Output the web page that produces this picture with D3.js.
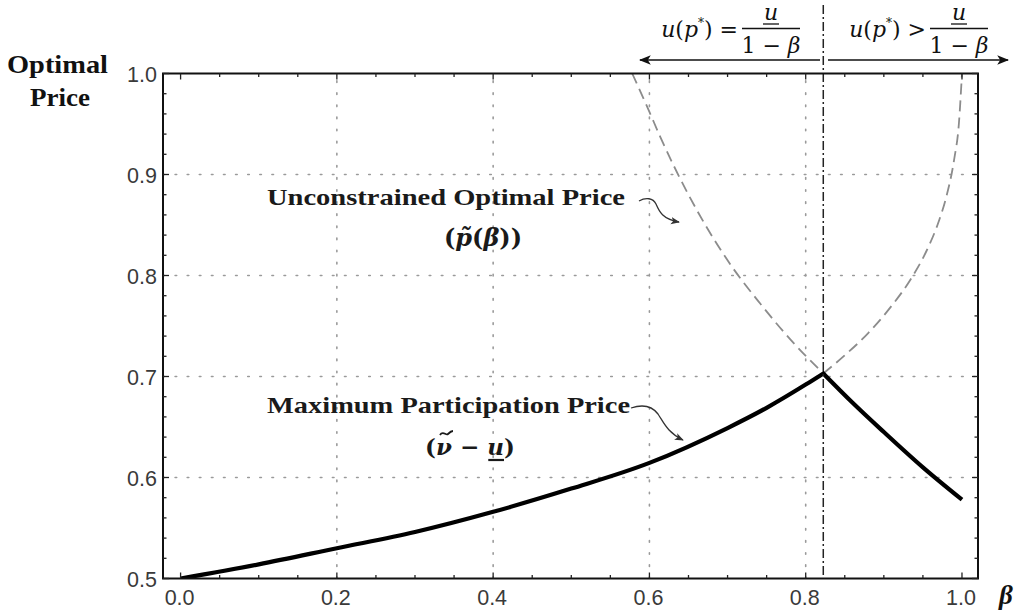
<!DOCTYPE html>
<html>
<head>
<meta charset="utf-8">
<script src="https://cdn.jsdelivr.net/npm/d3@7"></script>
<style>
  html, body { margin: 0; padding: 0; background: #fff; }
  svg { display: block; }
</style>
</head>
<body>
<svg id="chart" width="1015" height="614"></svg>
<script>
// ---------------- data ----------------
// Maximum participation price curve (rises, blows up near beta = 1)
const betaRise  = [0, 0.1, 0.2, 0.3, 0.4, 0.5, 0.6, 0.7, 0.75, 0.8, 0.8225, 0.85, 0.88, 0.91, 0.935, 0.955, 0.97, 0.98, 0.99, 0.996, 1.0];
const priceRise = [0.5, 0.514, 0.530, 0.546, 0.566, 0.589, 0.6145, 0.649, 0.669, 0.692, 0.703, 0.721, 0.743, 0.770, 0.797, 0.825, 0.853, 0.878, 0.915, 0.95, 1.0];
// Unconstrained optimal price curve (falls)
const betaFall  = [0.578, 0.6, 0.614, 0.65, 0.7, 0.742, 0.78, 0.8225, 0.86, 0.9, 0.95, 1.0];
const priceFall = [1.0, 0.962, 0.937, 0.88, 0.815, 0.772, 0.737, 0.703, 0.674, 0.645, 0.61, 0.578];
const betaSwitch = 0.8225;

const xTickValues = [0, 0.2, 0.4, 0.6, 0.8, 1.0];
const xTickLabels = ["0.0", "0.2", "0.4", "0.6", "0.8", "1.0"];
const yTickValues = [0.5, 0.6, 0.7, 0.8, 0.9, 1.0];
const yTickLabels = ["0.5", "0.6", "0.7", "0.8", "0.9", "1.0"];

// ---------------- setup ----------------
const svg = d3.select("#chart");
const L = 163, R = 978, T = 73.5, B = 578.5;
const x = d3.scaleLinear().domain([-0.0225, 1.0205]).range([L, R]);
const y = d3.scaleLinear().domain([0.5, 1.0]).range([B, T]);

const defs = svg.append("defs");
defs.append("clipPath").attr("id", "plotclip")
  .append("rect").attr("x", L).attr("y", T).attr("width", R - L).attr("height", B - T);
function marker(id, color, size) {
  defs.append("marker").attr("id", id)
    .attr("viewBox", "0 0 10 10").attr("refX", 9).attr("refY", 5)
    .attr("markerWidth", size).attr("markerHeight", size)
    .attr("markerUnits", "userSpaceOnUse")
    .attr("orient", "auto")
    .append("path").attr("d", "M0,1 L10,5 L0,9 L2.5,5 Z").attr("fill", color);
}
marker("arrowTop", "#111", 12);
marker("arrowSmall", "#333", 9);

// ---------------- grid ----------------
const grid = svg.append("g").attr("clip-path", "url(#plotclip)");
[0.2, 0.4, 0.6, 0.8].forEach(v => {
  grid.append("line")
    .attr("x1", x(v)).attr("x2", x(v)).attr("y1", B).attr("y2", T)
    .attr("stroke", "#9a9a9a").attr("stroke-width", 1.6)
    .attr("stroke-dasharray", "1.6 10.5").attr("stroke-linecap", "round");
});
[0.6, 0.7, 0.8, 0.9].forEach(v => {
  grid.append("line")
    .attr("x1", L).attr("x2", R).attr("y1", y(v)).attr("y2", y(v))
    .attr("stroke", "#9a9a9a").attr("stroke-width", 1.6)
    .attr("stroke-dasharray", "1.6 10.5").attr("stroke-linecap", "round");
});

// ---------------- curves ----------------
const line = d3.line().x(d => x(d[0])).y(d => y(d[1])).curve(d3.curveMonotoneX);
const rise = betaRise.map((b, i) => [b, priceRise[i]]);
const fall = betaFall.map((b, i) => [b, priceFall[i]]);

const plot = svg.append("g").attr("clip-path", "url(#plotclip)");
// dashed (non-binding) branches
plot.append("path").datum(fall.filter(d => d[0] <= betaSwitch))
  .attr("d", line).attr("fill", "none").attr("stroke", "#8c8c8c")
  .attr("stroke-width", 1.8).attr("stroke-dasharray", "11 6");
plot.append("path").datum(rise.filter(d => d[0] >= betaSwitch))
  .attr("d", line).attr("fill", "none").attr("stroke", "#8c8c8c")
  .attr("stroke-width", 1.8).attr("stroke-dasharray", "11 6");

// switch line (dash-dot), extends above the frame
svg.append("line")
  .attr("x1", x(betaSwitch)).attr("x2", x(betaSwitch))
  .attr("y1", 5).attr("y2", B)
  .attr("stroke", "#222").attr("stroke-width", 1.5)
  .attr("stroke-dasharray", "9 3 2 3");

// optimal price (black, thick) with a sharp corner at the switch point
const dUp = line(rise.filter(d => d[0] <= betaSwitch));
const dDown = line(fall.filter(d => d[0] >= betaSwitch)).replace(/^M/, "L");
plot.append("path")
  .attr("d", dUp + dDown).attr("fill", "none").attr("stroke", "#000")
  .attr("stroke-width", 4.2).attr("stroke-linejoin", "miter").attr("stroke-miterlimit", 10);

// ---------------- frame & ticks ----------------
const frame = svg.append("g");
frame.append("rect").attr("x", L).attr("y", T).attr("width", R - L).attr("height", B - T)
  .attr("fill", "none").attr("stroke", "#111").attr("stroke-width", 2);

const xMinor = d3.range(0, 1.0001, 0.05);
const yMinor = d3.range(0.5, 1.0001, 0.02);
xMinor.forEach(v => {
  const major = xTickValues.some(t => Math.abs(t - v) < 1e-6);
  const len = major ? 6 : 3.5;
  frame.append("line").attr("x1", x(v)).attr("x2", x(v)).attr("y1", B).attr("y2", B - len)
    .attr("stroke", "#222").attr("stroke-width", 1.3);
  frame.append("line").attr("x1", x(v)).attr("x2", x(v)).attr("y1", T).attr("y2", T + len)
    .attr("stroke", "#222").attr("stroke-width", 1.3);
});
yMinor.forEach(v => {
  const major = yTickValues.some(t => Math.abs(t - v) < 1e-6);
  const len = major ? 6 : 3.5;
  frame.append("line").attr("x1", L).attr("x2", L + len).attr("y1", y(v)).attr("y2", y(v))
    .attr("stroke", "#222").attr("stroke-width", 1.3);
  frame.append("line").attr("x1", R).attr("x2", R - len).attr("y1", y(v)).attr("y2", y(v))
    .attr("stroke", "#222").attr("stroke-width", 1.3);
});

const tickFont = "'Liberation Sans', Arial, sans-serif";
xTickValues.forEach((v, i) => {
  svg.append("text").attr("x", x(v) - 1).attr("y", 605)
    .attr("text-anchor", "middle").attr("font-family", tickFont)
    .attr("font-size", 21.5).attr("fill", "#3a3a3a").text(xTickLabels[i]);
});
yTickValues.forEach((v, i) => {
  svg.append("text").attr("x", 157).attr("y", y(v) + 8)
    .attr("text-anchor", "end").attr("font-family", tickFont)
    .attr("font-size", 21.5).attr("fill", "#3a3a3a").text(yTickLabels[i]);
});

// ---------------- axis titles ----------------
const serif = "'Liberation Serif', 'Times New Roman', serif";
const mathB = "'DejaVu Serif', serif";
svg.append("text").attr("x", 7).attr("y", 73)
  .attr("font-family", serif).attr("font-weight", "bold").attr("font-size", 25)
  .attr("textLength", 101).attr("lengthAdjust", "spacingAndGlyphs")
  .attr("fill", "#111").text("Optimal");
svg.append("text").attr("x", 30).attr("y", 106)
  .attr("font-family", serif).attr("font-weight", "bold").attr("font-size", 25)
  .attr("textLength", 60).attr("lengthAdjust", "spacingAndGlyphs")
  .attr("fill", "#111").text("Price");
svg.append("text").attr("x", 1006).attr("y", 604).attr("text-anchor", "middle")
  .attr("font-family", serif).attr("font-weight", "bold").attr("font-style", "italic")
  .attr("font-size", 27).attr("fill", "#111").text("β");

// ---------------- curve annotations ----------------
svg.append("text").attr("x", 267).attr("y", 205)
  .attr("font-family", serif).attr("font-weight", "bold").attr("font-size", 24)
  .attr("textLength", 358).attr("lengthAdjust", "spacingAndGlyphs")
  .attr("fill", "#1a1a1a").text("Unconstrained Optimal Price");
const t1 = svg.append("text").attr("x", 483).attr("y", 246).attr("text-anchor", "middle")
  .attr("font-family", mathB).attr("font-weight", "bold").attr("font-size", 24).attr("fill", "#1a1a1a");
t1.append("tspan").text("(");
t1.append("tspan").attr("font-style", "italic").text("p\u0303");
t1.append("tspan").text("(");
t1.append("tspan").attr("font-style", "italic").text("β");
t1.append("tspan").text("))");

svg.append("text").attr("x", 267).attr("y", 413)
  .attr("font-family", serif).attr("font-weight", "bold").attr("font-size", 24)
  .attr("textLength", 363).attr("lengthAdjust", "spacingAndGlyphs")
  .attr("fill", "#1a1a1a").text("Maximum Participation Price");
const t2 = svg.append("text").attr("x", 470).attr("y", 455).attr("text-anchor", "middle")
  .attr("font-family", mathB).attr("font-weight", "bold").attr("font-size", 23).attr("fill", "#1a1a1a");
t2.append("tspan").text("(");
t2.append("tspan").attr("font-style", "italic").attr("id", "nu").text("ν");
t2.append("tspan").text(" − ");
t2.append("tspan").attr("font-style", "italic").attr("id", "uu").text("u");
t2.append("tspan").text(")");
try {
  const uu = document.getElementById("uu");
  const s = uu.getStartPositionOfChar(0), e = uu.getEndPositionOfChar(0);
  svg.append("line").attr("x1", s.x + 1).attr("x2", e.x).attr("y1", 460).attr("y2", 460)
    .attr("stroke", "#1a1a1a").attr("stroke-width", 2.2);
  const nu = document.getElementById("nu");
  const ns = nu.getStartPositionOfChar(0), ne = nu.getEndPositionOfChar(0);
  const cx = (ns.x + ne.x) / 2 + 2, ty = 433;
  svg.append("path")
    .attr("d", `M${cx - 6},${ty + 2} C${cx - 3},${ty - 3} ${cx},${ty + 3} ${cx + 2},${ty + 1} C${cx + 4},${ty - 1} ${cx + 5},${ty - 2} ${cx + 7},${ty - 2}`)
    .attr("fill", "none").attr("stroke", "#1a1a1a").attr("stroke-width", 1.8);
} catch (err) {}

// squiggly arrows
svg.append("path")
  .attr("d", "M639,201 C646,197 653,198 656,204 C659,211 662,219 679,222")
  .attr("fill", "none").attr("stroke", "#333").attr("stroke-width", 1.3)
  .attr("marker-end", "url(#arrowSmall)");
svg.append("path")
  .attr("d", "M631,408 C643,404 652,406 658,414 C664,423 668,433 683,440")
  .attr("fill", "none").attr("stroke", "#333").attr("stroke-width", 1.3)
  .attr("marker-end", "url(#arrowSmall)");

// ---------------- top regime annotations ----------------
const math = "'DejaVu Serif', 'Liberation Serif', serif";
function regime(xEnd, rel, fracL, fracR) {
  const g = svg.append("g").attr("font-family", math).attr("font-size", 22).attr("fill", "#111");
  const t = g.append("text").attr("x", xEnd).attr("y", 37).attr("text-anchor", "end");
  t.append("tspan").attr("font-style", "italic").text("u");
  t.append("tspan").text("(");
  t.append("tspan").attr("font-style", "italic").text("p");
  t.append("tspan").attr("font-size", 12).attr("dy", -10).text("*");
  t.append("tspan").attr("dy", 10).text(") " + rel);
  const cx = (fracL + fracR) / 2;
  g.append("line").attr("x1", fracL).attr("x2", fracR).attr("y1", 28.5).attr("y2", 28.5)
    .attr("stroke", "#111").attr("stroke-width", 1.4);
  g.append("text").attr("x", cx).attr("y", 20).attr("text-anchor", "middle")
    .attr("font-style", "italic").text("u");
  g.append("line").attr("x1", cx - 8).attr("x2", cx + 8).attr("y1", 24).attr("y2", 24)
    .attr("stroke", "#111").attr("stroke-width", 1.3);
  const d = g.append("text").attr("x", cx).attr("y", 53).attr("text-anchor", "middle");
  d.append("tspan").text("1 − ");
  d.append("tspan").attr("font-style", "italic").text("β");
}
regime(738, "=", 742, 800);
regime(926, ">", 930, 988);

svg.append("line").attr("x1", 820).attr("x2", 640).attr("y1", 60).attr("y2", 60)
  .attr("stroke", "#111").attr("stroke-width", 1.5).attr("marker-end", "url(#arrowTop)");
svg.append("line").attr("x1", 828).attr("x2", 1008).attr("y1", 60).attr("y2", 60)
  .attr("stroke", "#111").attr("stroke-width", 1.5).attr("marker-end", "url(#arrowTop)");
</script>
</body>
</html>
